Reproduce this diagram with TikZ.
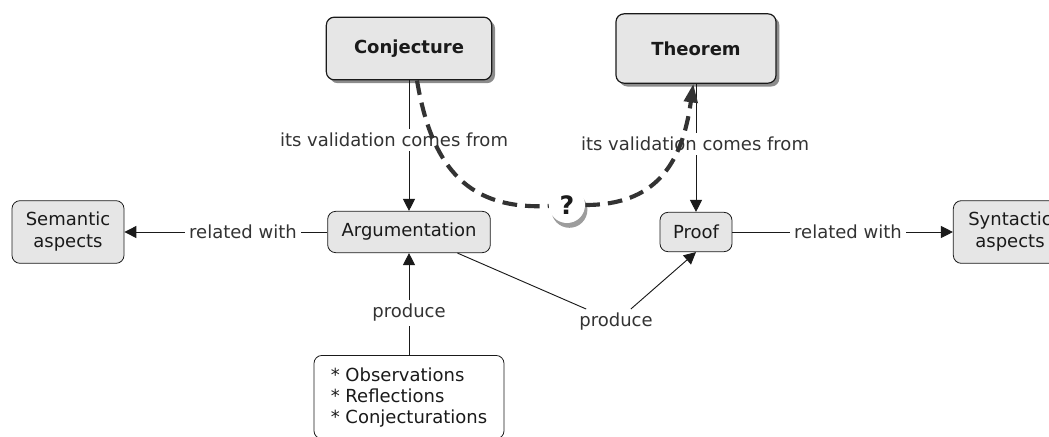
\documentclass[tikz,border=0pt]{standalone}
\usepackage{fontspec}
\setmainfont{DejaVu Sans}
\usetikzlibrary{arrows.meta,shadows,positioning}
\definecolor{cmapgray}{HTML}{E6E6E6}
\definecolor{cmapline}{HTML}{1A1A1A}
\definecolor{cmaptext}{HTML}{333333}
\definecolor{cmapshadow}{HTML}{8C8C8C}
\tikzset{
  concept/.style={rounded corners=6pt, draw=cmapline, fill=cmapgray, line width=0.6pt, align=center, font=\fontsize{13.5}{16.5}\selectfont, text=cmapline, inner sep=0pt},
  mainconcept/.style={concept, line width=0.9pt, font=\fontsize{13.5}{16.5}\selectfont\bfseries, drop shadow={shadow xshift=2.5pt, shadow yshift=-2.5pt, fill=cmapshadow, opacity=1}},
  listbox/.style={concept, fill=white, align=left, inner xsep=10pt, inner ysep=9pt, font=\fontsize{13.5}{15.75}\selectfont},
  linklabel/.style={font=\fontsize{13.5}{16.5}\selectfont, text=cmaptext, fill=white, inner sep=3pt},
  qmark/.style={circle, fill=white, minimum size=27pt, inner sep=0pt, font=\fontsize{19}{19}\selectfont\bfseries, text=cmapline, drop shadow={shadow xshift=1.8pt, shadow yshift=-3.6pt, fill=cmapshadow!85, opacity=1}},
  edge/.style={-{Triangle[length=9pt, width=9pt]}, line width=0.7pt, draw=cmapline},
  plainedge/.style={line width=0.7pt, draw=cmapline},
  dashededge/.style={line width=3.1pt, draw=cmaptext, dash pattern=on 11pt off 6pt}
}
\begin{document}
\begin{tikzpicture}[x=0.75pt, y=-0.75pt]
  \useasboundingbox (0,0) rectangle (1049,436);
  \clip (0,0) rectangle (1049,436);
  % concepts
  \node[mainconcept, minimum width=124pt, minimum height=47pt] (conj) at (409,48.5) {Conjecture};
  \node[mainconcept, minimum width=120pt, minimum height=52pt] (thm) at (696,48.5) {Theorem};
  \node[concept, minimum width=122pt, minimum height=31pt] (arg) at (409,232) {Argumentation};
  \node[concept, minimum width=54pt, minimum height=29.5pt] (proof) at (696,232) {Proof};
  \node[concept, minimum width=84pt, minimum height=47pt] (sem) at (68,232) {Semantic\\aspects};
  \node[concept, minimum width=85pt, minimum height=47pt] (syn) at (1010,232) {Syntactic\\aspects};
  \node[listbox, anchor=north, minimum width=142.5pt] (obs) at (409,355) {* Observations\\* Reflections\\* Conjecturations};
  % links
  \draw[edge] (conj) -- (arg);
  \draw[edge] (thm) -- (proof);
  \draw[edge] (arg) -- (sem);
  \draw[edge] (proof) -- (syn);
  \draw[edge] (obs) -- (arg);
  % link labels
  \node[linklabel] (valL) at (394,140) {its validation comes from};
  \node[linklabel] (valR) at (695,144) {its validation comes from};
  \node[linklabel] (relL) at (243,232) {related with};
  \node[linklabel] (relR) at (848,232) {related with};
  \node[linklabel] (prodL) at (409,313) {produce};
  \node[linklabel] (prodR) at (616,322) {produce};
  \draw[plainedge] (arg) -- (prodR);
  \draw[edge] (prodR) -- (proof.south);
  % the open question
  \node[qmark] (q) at (567,205) {?};
  \draw[dashededge] ([xshift=6pt]conj.south) .. controls (432,170) and (470,210) .. (q);
  \draw[dashededge, -{Triangle[length=14pt, width=10pt]}] (q) .. controls (655,205) and (682,165) .. ([xshift=-2pt]thm.south);
\end{tikzpicture}
\end{document}
